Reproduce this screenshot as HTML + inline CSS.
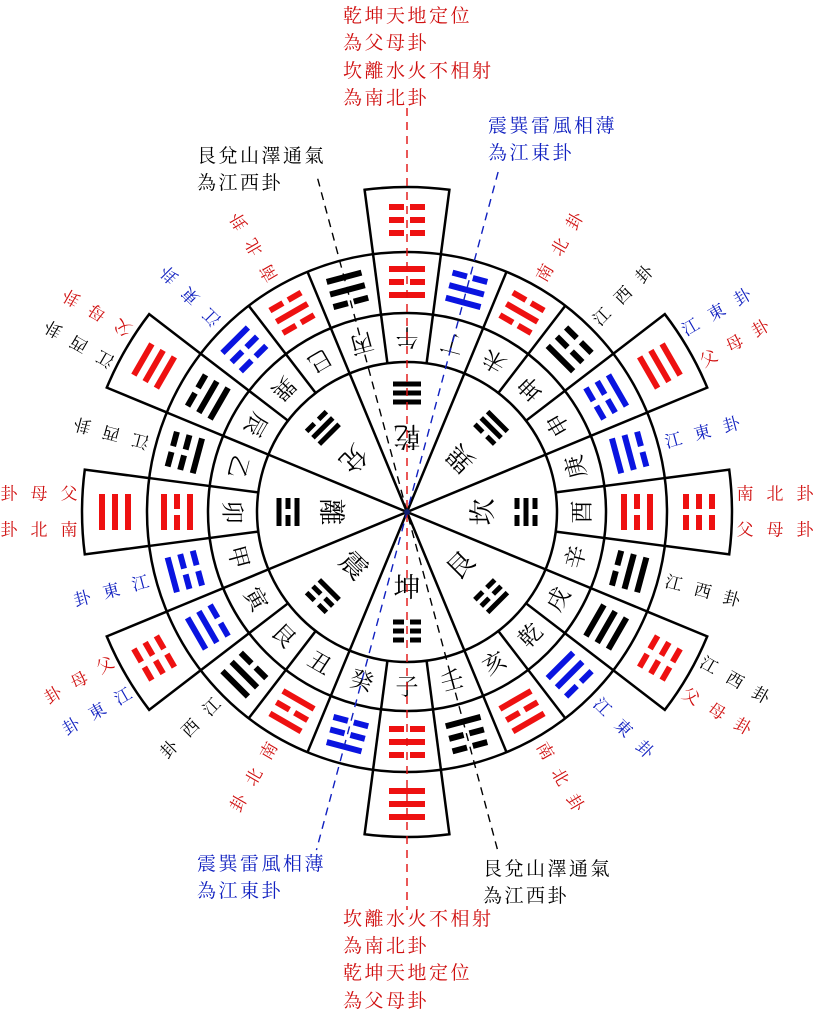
<!DOCTYPE html>
<html><head><meta charset="utf-8"><style>
html,body{margin:0;padding:0;background:#fff}
svg{display:block}
text{font-family:"Liberation Serif","Noto Serif CJK SC","Noto Sans CJK TC",serif;text-anchor:middle;dominant-baseline:central}
.t{font-size:19px;text-anchor:start;dominant-baseline:auto;letter-spacing:2.5px}
.r2{font-size:23px;fill:#000}
.nm{font-size:27px;fill:#000}
.lb{font-size:17px}
</style></head><body>
<svg width="814" height="1023" viewBox="0 0 814 1023" xmlns="http://www.w3.org/2000/svg">
<defs>
<g id="f"><rect x="-18" y="-3" width="36" height="6"/></g>
<g id="b"><rect x="-18" y="-3" width="15" height="6"/><rect x="3" y="-3" width="15" height="6"/></g>
<g id="fs"><rect x="-14" y="-2.5" width="28" height="5"/></g>
<g id="bs"><rect x="-14" y="-2.5" width="11" height="5"/><rect x="3" y="-2.5" width="11" height="5"/></g>
<path id="box" d="M373.1 254.2 L364.6 189.8 A325 325 0 0 1 449.4 189.8 L440.9 254.2" fill="none" stroke="#000" stroke-width="2.5"/>
<line id="dv" x1="407" y1="362" x2="407" y2="252" stroke="#000" stroke-width="2.5"/>
<line id="sl" x1="407" y1="512" x2="407" y2="362" stroke="#000" stroke-width="2.5"/>
</defs>

<g fill="#d01010" class="t">
<text class="t" x="343" y="22">乾坤天地定位</text>
<text class="t" x="343" y="49">為父母卦</text>
<text class="t" x="343" y="77">坎離水火不相射</text>
<text class="t" x="343" y="104">為南北卦</text>
<text class="t" x="343" y="925">坎離水火不相射</text>
<text class="t" x="343" y="952">為南北卦</text>
<text class="t" x="343" y="979">乾坤天地定位</text>
<text class="t" x="343" y="1007">為父母卦</text>
</g>
<g fill="#1020c0">
<text class="t" x="488" y="132">震巽雷風相薄</text>
<text class="t" x="488" y="159">為江東卦</text>
<text class="t" x="197" y="870">震巽雷風相薄</text>
<text class="t" x="197" y="897">為江東卦</text>
</g>
<g fill="#000">
<text class="t" x="197" y="162">艮兌山澤通氣</text>
<text class="t" x="197" y="189">為江西卦</text>
<text class="t" x="483" y="875">艮兌山澤通氣</text>
<text class="t" x="483" y="902">為江西卦</text>
</g>

<g fill="none" stroke="#000" stroke-width="2.5">
<circle cx="407" cy="512" r="150"/>
<circle cx="407" cy="512" r="199"/>
<circle cx="407" cy="512" r="260"/>
</g>

<g>
<use href="#dv" transform="rotate(7.5 407 512)"/><use href="#dv" transform="rotate(22.5 407 512)"/><use href="#dv" transform="rotate(37.5 407 512)"/><use href="#dv" transform="rotate(52.5 407 512)"/><use href="#dv" transform="rotate(67.5 407 512)"/><use href="#dv" transform="rotate(82.5 407 512)"/><use href="#dv" transform="rotate(97.5 407 512)"/><use href="#dv" transform="rotate(112.5 407 512)"/><use href="#dv" transform="rotate(127.5 407 512)"/><use href="#dv" transform="rotate(142.5 407 512)"/><use href="#dv" transform="rotate(157.5 407 512)"/><use href="#dv" transform="rotate(172.5 407 512)"/><use href="#dv" transform="rotate(187.5 407 512)"/><use href="#dv" transform="rotate(202.5 407 512)"/><use href="#dv" transform="rotate(217.5 407 512)"/><use href="#dv" transform="rotate(232.5 407 512)"/><use href="#dv" transform="rotate(247.5 407 512)"/><use href="#dv" transform="rotate(262.5 407 512)"/><use href="#dv" transform="rotate(277.5 407 512)"/><use href="#dv" transform="rotate(292.5 407 512)"/><use href="#dv" transform="rotate(307.5 407 512)"/><use href="#dv" transform="rotate(322.5 407 512)"/><use href="#dv" transform="rotate(337.5 407 512)"/><use href="#dv" transform="rotate(352.5 407 512)"/>
<use href="#sl" transform="rotate(22.5 407 512)"/><use href="#sl" transform="rotate(67.5 407 512)"/><use href="#sl" transform="rotate(112.5 407 512)"/><use href="#sl" transform="rotate(157.5 407 512)"/><use href="#sl" transform="rotate(202.5 407 512)"/><use href="#sl" transform="rotate(247.5 407 512)"/><use href="#sl" transform="rotate(292.5 407 512)"/><use href="#sl" transform="rotate(337.5 407 512)"/>
</g>

<g fill="#ee1111">
<g transform="rotate(0 407 512)"><use href="#box"/><use href="#b" x="407" y="207"/><use href="#b" x="407" y="220"/><use href="#b" x="407" y="233"/></g>
<g transform="rotate(60 407 512)"><use href="#box"/><use href="#f" x="407" y="207"/><use href="#f" x="407" y="220"/><use href="#f" x="407" y="233"/></g>
<g transform="rotate(90 407 512)"><use href="#box"/><use href="#b" x="407" y="207"/><use href="#b" x="407" y="220"/><use href="#b" x="407" y="233"/></g>
<g transform="rotate(120 407 512)"><use href="#box"/><use href="#b" x="407" y="207"/><use href="#b" x="407" y="220"/><use href="#b" x="407" y="233"/></g>
<g transform="rotate(180 407 512)"><use href="#box"/><use href="#f" x="407" y="207"/><use href="#f" x="407" y="220"/><use href="#f" x="407" y="233"/></g>
<g transform="rotate(240 407 512)"><use href="#box"/><use href="#b" x="407" y="207"/><use href="#b" x="407" y="220"/><use href="#b" x="407" y="233"/></g>
<g transform="rotate(270 407 512)"><use href="#box"/><use href="#f" x="407" y="207"/><use href="#f" x="407" y="220"/><use href="#f" x="407" y="233"/></g>
<g transform="rotate(300 407 512)"><use href="#box"/><use href="#f" x="407" y="207"/><use href="#f" x="407" y="220"/><use href="#f" x="407" y="233"/></g>
</g>

<g>
<g transform="rotate(0 407 512)" fill="#ee1111"><use href="#f" x="407" y="269"/><use href="#b" x="407" y="282"/><use href="#f" x="407" y="295"/></g>
<g transform="rotate(15 407 512)" fill="#0a14e0"><use href="#b" x="407" y="269"/><use href="#f" x="407" y="282"/><use href="#f" x="407" y="295"/></g>
<g transform="rotate(30 407 512)" fill="#ee1111"><use href="#b" x="407" y="269"/><use href="#f" x="407" y="282"/><use href="#b" x="407" y="295"/></g>
<g transform="rotate(45 407 512)" fill="#000"><use href="#b" x="407" y="269"/><use href="#b" x="407" y="282"/><use href="#f" x="407" y="295"/></g>
<g transform="rotate(60 407 512)" fill="#0a14e0"><use href="#f" x="407" y="269"/><use href="#b" x="407" y="282"/><use href="#b" x="407" y="295"/></g>
<g transform="rotate(75 407 512)" fill="#0a14e0"><use href="#b" x="407" y="269"/><use href="#f" x="407" y="282"/><use href="#f" x="407" y="295"/></g>
<g transform="rotate(90 407 512)" fill="#ee1111"><use href="#f" x="407" y="269"/><use href="#b" x="407" y="282"/><use href="#f" x="407" y="295"/></g>
<g transform="rotate(105 407 512)" fill="#000"><use href="#f" x="407" y="269"/><use href="#f" x="407" y="282"/><use href="#b" x="407" y="295"/></g>
<g transform="rotate(120 407 512)" fill="#000"><use href="#f" x="407" y="269"/><use href="#f" x="407" y="282"/><use href="#f" x="407" y="295"/></g>
<g transform="rotate(135 407 512)" fill="#0a14e0"><use href="#b" x="407" y="269"/><use href="#f" x="407" y="282"/><use href="#f" x="407" y="295"/></g>
<g transform="rotate(150 407 512)" fill="#ee1111"><use href="#f" x="407" y="269"/><use href="#b" x="407" y="282"/><use href="#f" x="407" y="295"/></g>
<g transform="rotate(165 407 512)" fill="#000"><use href="#b" x="407" y="269"/><use href="#b" x="407" y="282"/><use href="#f" x="407" y="295"/></g>
<g transform="rotate(180 407 512)" fill="#ee1111"><use href="#b" x="407" y="269"/><use href="#f" x="407" y="282"/><use href="#b" x="407" y="295"/></g>
<g transform="rotate(195 407 512)" fill="#0a14e0"><use href="#f" x="407" y="269"/><use href="#b" x="407" y="282"/><use href="#b" x="407" y="295"/></g>
<g transform="rotate(210 407 512)" fill="#ee1111"><use href="#f" x="407" y="269"/><use href="#b" x="407" y="282"/><use href="#f" x="407" y="295"/></g>
<g transform="rotate(225 407 512)" fill="#000"><use href="#f" x="407" y="269"/><use href="#f" x="407" y="282"/><use href="#b" x="407" y="295"/></g>
<g transform="rotate(240 407 512)" fill="#0a14e0"><use href="#f" x="407" y="269"/><use href="#f" x="407" y="282"/><use href="#b" x="407" y="295"/></g>
<g transform="rotate(255 407 512)" fill="#0a14e0"><use href="#f" x="407" y="269"/><use href="#b" x="407" y="282"/><use href="#b" x="407" y="295"/></g>
<g transform="rotate(270 407 512)" fill="#ee1111"><use href="#f" x="407" y="269"/><use href="#b" x="407" y="282"/><use href="#f" x="407" y="295"/></g>
<g transform="rotate(285 407 512)" fill="#000"><use href="#b" x="407" y="269"/><use href="#b" x="407" y="282"/><use href="#f" x="407" y="295"/></g>
<g transform="rotate(300 407 512)" fill="#000"><use href="#b" x="407" y="269"/><use href="#f" x="407" y="282"/><use href="#f" x="407" y="295"/></g>
<g transform="rotate(315 407 512)" fill="#0a14e0"><use href="#f" x="407" y="269"/><use href="#b" x="407" y="282"/><use href="#b" x="407" y="295"/></g>
<g transform="rotate(330 407 512)" fill="#ee1111"><use href="#b" x="407" y="269"/><use href="#f" x="407" y="282"/><use href="#b" x="407" y="295"/></g>
<g transform="rotate(345 407 512)" fill="#000"><use href="#f" x="407" y="269"/><use href="#f" x="407" y="282"/><use href="#b" x="407" y="295"/></g>
</g>

<g class="r2">
<g transform="rotate(0 407 512)"><text class="r2" x="407" y="337" transform="rotate(180 407 337)">午</text></g>
<g transform="rotate(15 407 512)"><text class="r2" x="407" y="337" transform="rotate(180 407 337)">丁</text></g>
<g transform="rotate(30 407 512)"><text class="r2" x="407" y="337" transform="rotate(180 407 337)">未</text></g>
<g transform="rotate(45 407 512)"><text class="r2" x="407" y="337" transform="rotate(180 407 337)">坤</text></g>
<g transform="rotate(60 407 512)"><text class="r2" x="407" y="337" transform="rotate(180 407 337)">申</text></g>
<g transform="rotate(75 407 512)"><text class="r2" x="407" y="337" transform="rotate(180 407 337)">庚</text></g>
<g transform="rotate(90 407 512)"><text class="r2" x="407" y="337" transform="rotate(180 407 337)">酉</text></g>
<g transform="rotate(105 407 512)"><text class="r2" x="407" y="337" transform="rotate(180 407 337)">辛</text></g>
<g transform="rotate(120 407 512)"><text class="r2" x="407" y="337" transform="rotate(180 407 337)">戌</text></g>
<g transform="rotate(135 407 512)"><text class="r2" x="407" y="337" transform="rotate(180 407 337)">乾</text></g>
<g transform="rotate(150 407 512)"><text class="r2" x="407" y="337" transform="rotate(180 407 337)">亥</text></g>
<g transform="rotate(165 407 512)"><text class="r2" x="407" y="337" transform="rotate(180 407 337)">壬</text></g>
<g transform="rotate(180 407 512)"><text class="r2" x="407" y="337" transform="rotate(180 407 337)">子</text></g>
<g transform="rotate(195 407 512)"><text class="r2" x="407" y="337" transform="rotate(180 407 337)">癸</text></g>
<g transform="rotate(210 407 512)"><text class="r2" x="407" y="337" transform="rotate(180 407 337)">丑</text></g>
<g transform="rotate(225 407 512)"><text class="r2" x="407" y="337" transform="rotate(180 407 337)">艮</text></g>
<g transform="rotate(240 407 512)"><text class="r2" x="407" y="337" transform="rotate(180 407 337)">寅</text></g>
<g transform="rotate(255 407 512)"><text class="r2" x="407" y="337" transform="rotate(180 407 337)">甲</text></g>
<g transform="rotate(270 407 512)"><text class="r2" x="407" y="337" transform="rotate(180 407 337)">卯</text></g>
<g transform="rotate(285 407 512)"><text class="r2" x="407" y="337" transform="rotate(180 407 337)">乙</text></g>
<g transform="rotate(300 407 512)"><text class="r2" x="407" y="337" transform="rotate(180 407 337)">辰</text></g>
<g transform="rotate(315 407 512)"><text class="r2" x="407" y="337" transform="rotate(180 407 337)">巽</text></g>
<g transform="rotate(330 407 512)"><text class="r2" x="407" y="337" transform="rotate(180 407 337)">巳</text></g>
<g transform="rotate(345 407 512)"><text class="r2" x="407" y="337" transform="rotate(180 407 337)">丙</text></g>
</g>

<g fill="#000">
<g transform="rotate(0 407 512)"><use href="#fs" x="407" y="384"/><use href="#fs" x="407" y="393"/><use href="#fs" x="407" y="402"/><text class="nm" x="407" y="436" transform="rotate(180 407 436)">乾</text></g>
<g transform="rotate(45 407 512)"><use href="#fs" x="407" y="384"/><use href="#fs" x="407" y="393"/><use href="#bs" x="407" y="402"/><text class="nm" x="407" y="436" transform="rotate(180 407 436)">巽</text></g>
<g transform="rotate(90 407 512)"><use href="#bs" x="407" y="384"/><use href="#fs" x="407" y="393"/><use href="#bs" x="407" y="402"/><text class="nm" x="407" y="436" transform="rotate(180 407 436)">坎</text></g>
<g transform="rotate(135 407 512)"><use href="#fs" x="407" y="384"/><use href="#bs" x="407" y="393"/><use href="#bs" x="407" y="402"/><text class="nm" x="407" y="436" transform="rotate(180 407 436)">艮</text></g>
<g transform="rotate(180 407 512)"><use href="#bs" x="407" y="384"/><use href="#bs" x="407" y="393"/><use href="#bs" x="407" y="402"/><text class="nm" x="407" y="436" transform="rotate(180 407 436)">坤</text></g>
<g transform="rotate(225 407 512)"><use href="#bs" x="407" y="384"/><use href="#bs" x="407" y="393"/><use href="#fs" x="407" y="402"/><text class="nm" x="407" y="436" transform="rotate(180 407 436)">震</text></g>
<g transform="rotate(270 407 512)"><use href="#fs" x="407" y="384"/><use href="#bs" x="407" y="393"/><use href="#fs" x="407" y="402"/><text class="nm" x="407" y="436" transform="rotate(180 407 436)">離</text></g>
<g transform="rotate(315 407 512)"><use href="#bs" x="407" y="384"/><use href="#fs" x="407" y="393"/><use href="#fs" x="407" y="402"/><text class="nm" x="407" y="436" transform="rotate(180 407 436)">兌</text></g>
</g>

<g class="lb">
<g transform="rotate(30 407 512)" fill="#d01010"><text class="lb" x="407" y="236" transform="rotate(-90 407 236)">南</text><text class="lb" x="407" y="206" transform="rotate(-90 407 206)">北</text><text class="lb" x="407" y="176" transform="rotate(-90 407 176)">卦</text></g>
<g transform="rotate(45 407 512)" fill="#000"><text class="lb" x="407" y="236" transform="rotate(-90 407 236)">江</text><text class="lb" x="407" y="206" transform="rotate(-90 407 206)">西</text><text class="lb" x="407" y="176" transform="rotate(-90 407 176)">卦</text></g>
<g transform="rotate(75 407 512)" fill="#1020c0"><text class="lb" x="407" y="236" transform="rotate(-90 407 236)">江</text><text class="lb" x="407" y="206" transform="rotate(-90 407 206)">東</text><text class="lb" x="407" y="176" transform="rotate(-90 407 176)">卦</text></g>
<g transform="rotate(105 407 512)" fill="#000"><text class="lb" x="407" y="236" transform="rotate(-90 407 236)">江</text><text class="lb" x="407" y="206" transform="rotate(-90 407 206)">西</text><text class="lb" x="407" y="176" transform="rotate(-90 407 176)">卦</text></g>
<g transform="rotate(135 407 512)" fill="#1020c0"><text class="lb" x="407" y="236" transform="rotate(-90 407 236)">江</text><text class="lb" x="407" y="206" transform="rotate(-90 407 206)">東</text><text class="lb" x="407" y="176" transform="rotate(-90 407 176)">卦</text></g>
<g transform="rotate(150 407 512)" fill="#d01010"><text class="lb" x="407" y="236" transform="rotate(-90 407 236)">南</text><text class="lb" x="407" y="206" transform="rotate(-90 407 206)">北</text><text class="lb" x="407" y="176" transform="rotate(-90 407 176)">卦</text></g>
<g transform="rotate(210 407 512)" fill="#d01010"><text class="lb" x="407" y="236" transform="rotate(90 407 236)">南</text><text class="lb" x="407" y="206" transform="rotate(90 407 206)">北</text><text class="lb" x="407" y="176" transform="rotate(90 407 176)">卦</text></g>
<g transform="rotate(225 407 512)" fill="#000"><text class="lb" x="407" y="236" transform="rotate(90 407 236)">江</text><text class="lb" x="407" y="206" transform="rotate(90 407 206)">西</text><text class="lb" x="407" y="176" transform="rotate(90 407 176)">卦</text></g>
<g transform="rotate(255 407 512)" fill="#1020c0"><text class="lb" x="407" y="236" transform="rotate(90 407 236)">江</text><text class="lb" x="407" y="206" transform="rotate(90 407 206)">東</text><text class="lb" x="407" y="176" transform="rotate(90 407 176)">卦</text></g>
<g transform="rotate(285 407 512)" fill="#000"><text class="lb" x="407" y="236" transform="rotate(-90 407 236)">江</text><text class="lb" x="407" y="206" transform="rotate(-90 407 206)">西</text><text class="lb" x="407" y="176" transform="rotate(-90 407 176)">卦</text></g>
<g transform="rotate(315 407 512)" fill="#1020c0"><text class="lb" x="407" y="236" transform="rotate(-90 407 236)">江</text><text class="lb" x="407" y="206" transform="rotate(-90 407 206)">東</text><text class="lb" x="407" y="176" transform="rotate(-90 407 176)">卦</text></g>
<g transform="rotate(330 407 512)" fill="#d01010"><text class="lb" x="407" y="236" transform="rotate(-90 407 236)">南</text><text class="lb" x="407" y="206" transform="rotate(-90 407 206)">北</text><text class="lb" x="407" y="176" transform="rotate(-90 407 176)">卦</text></g>
</g>

<g class="lb">
<g transform="rotate(60 407 512)">
<g fill="#1020c0"><text class="lb" x="389" y="174" transform="rotate(-90 389 174)">江</text><text class="lb" x="389" y="144" transform="rotate(-90 389 144)">東</text><text class="lb" x="389" y="114" transform="rotate(-90 389 114)">卦</text></g>
<g fill="#d01010"><text class="lb" x="425" y="174" transform="rotate(-90 425 174)">父</text><text class="lb" x="425" y="144" transform="rotate(-90 425 144)">母</text><text class="lb" x="425" y="114" transform="rotate(-90 425 114)">卦</text></g>
</g>
<g transform="rotate(90 407 512)" fill="#d01010">
<text class="lb" x="389" y="174" transform="rotate(-90 389 174)">南</text><text class="lb" x="389" y="144" transform="rotate(-90 389 144)">北</text><text class="lb" x="389" y="114" transform="rotate(-90 389 114)">卦</text>
<text class="lb" x="425" y="174" transform="rotate(-90 425 174)">父</text><text class="lb" x="425" y="144" transform="rotate(-90 425 144)">母</text><text class="lb" x="425" y="114" transform="rotate(-90 425 114)">卦</text>
</g>
<g transform="rotate(120 407 512)">
<g fill="#000"><text class="lb" x="389" y="174" transform="rotate(-90 389 174)">江</text><text class="lb" x="389" y="144" transform="rotate(-90 389 144)">西</text><text class="lb" x="389" y="114" transform="rotate(-90 389 114)">卦</text></g>
<g fill="#d01010"><text class="lb" x="425" y="174" transform="rotate(-90 425 174)">父</text><text class="lb" x="425" y="144" transform="rotate(-90 425 144)">母</text><text class="lb" x="425" y="114" transform="rotate(-90 425 114)">卦</text></g>
</g>
<g transform="rotate(240 407 512)">
<g fill="#1020c0"><text class="lb" x="389" y="174" transform="rotate(90 389 174)">江</text><text class="lb" x="389" y="144" transform="rotate(90 389 144)">東</text><text class="lb" x="389" y="114" transform="rotate(90 389 114)">卦</text></g>
<g fill="#d01010"><text class="lb" x="425" y="174" transform="rotate(90 425 174)">父</text><text class="lb" x="425" y="144" transform="rotate(90 425 144)">母</text><text class="lb" x="425" y="114" transform="rotate(90 425 114)">卦</text></g>
</g>
<g transform="rotate(270 407 512)" fill="#d01010">
<text class="lb" x="389" y="174" transform="rotate(90 389 174)">南</text><text class="lb" x="389" y="144" transform="rotate(90 389 144)">北</text><text class="lb" x="389" y="114" transform="rotate(90 389 114)">卦</text>
<text class="lb" x="425" y="174" transform="rotate(90 425 174)">父</text><text class="lb" x="425" y="144" transform="rotate(90 425 144)">母</text><text class="lb" x="425" y="114" transform="rotate(90 425 114)">卦</text>
</g>
<g transform="rotate(300 407 512)">
<g fill="#000"><text class="lb" x="389" y="174" transform="rotate(-90 389 174)">江</text><text class="lb" x="389" y="144" transform="rotate(-90 389 144)">西</text><text class="lb" x="389" y="114" transform="rotate(-90 389 114)">卦</text></g>
<g fill="#d01010"><text class="lb" x="425" y="174" transform="rotate(-90 425 174)">父</text><text class="lb" x="425" y="144" transform="rotate(-90 425 144)">母</text><text class="lb" x="425" y="114" transform="rotate(-90 425 114)">卦</text></g>
</g>
</g>

<g fill="none" stroke-width="1.4" stroke-dasharray="8 6">
<line x1="407" y1="108" x2="407" y2="910" stroke="#e01010"/>
<line x1="407" y1="167" x2="407" y2="862" stroke="#000" transform="rotate(-15 407 512)"/>
<line x1="407" y1="160" x2="407" y2="862" stroke="#1020c0" transform="rotate(15 407 512)"/>
</g>
<circle cx="407" cy="512" r="3" fill="#102070"/>
</svg>
</body></html>
